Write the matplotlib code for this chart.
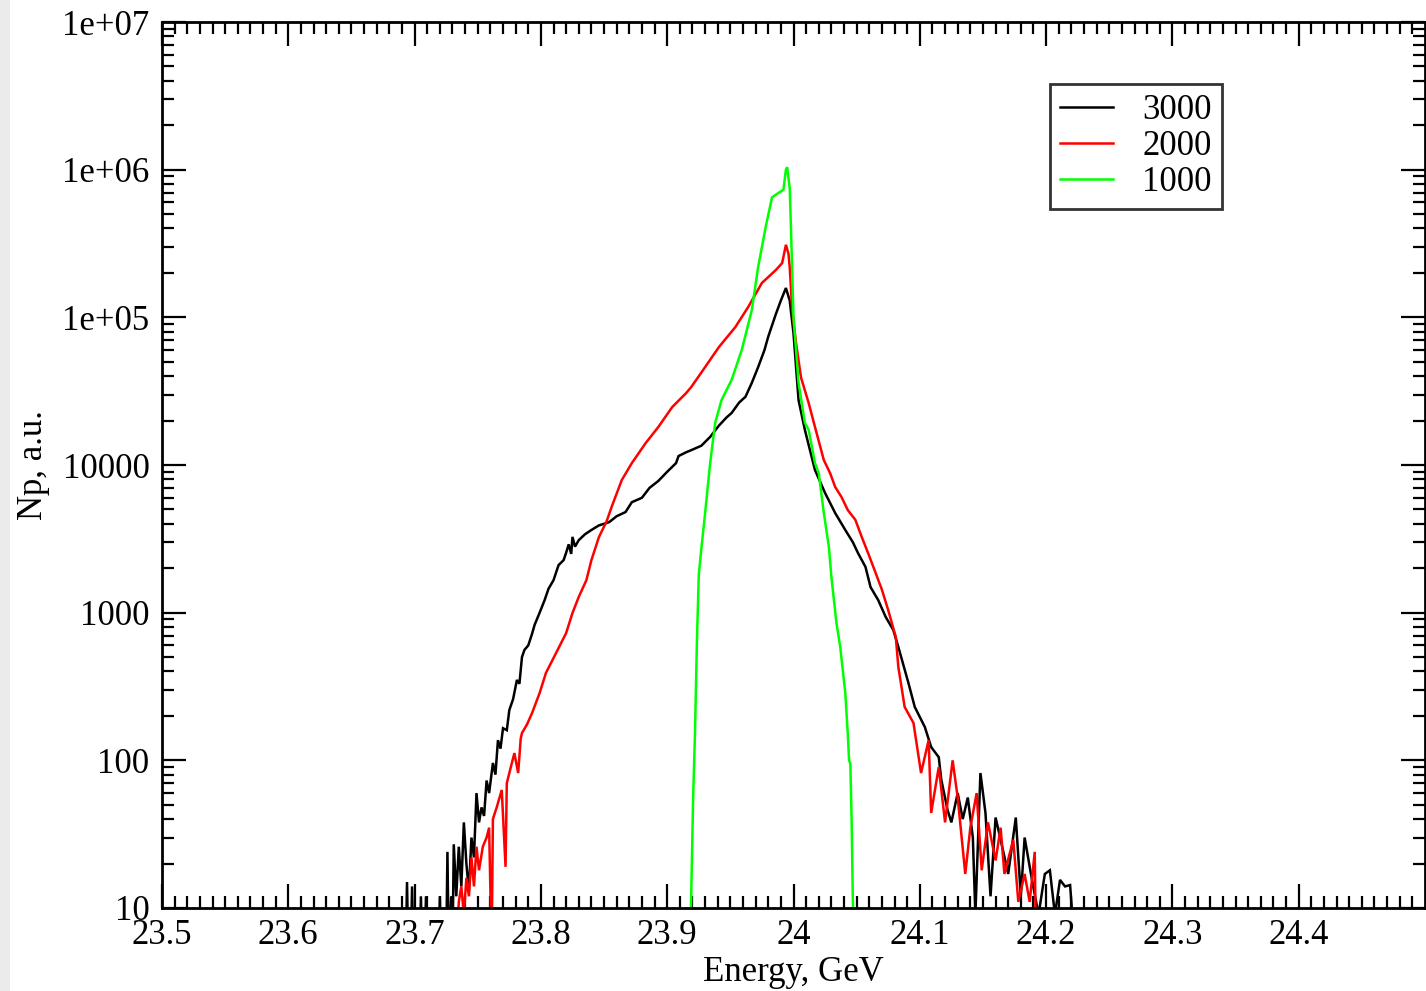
import numpy as np
import matplotlib
matplotlib.use('Agg')
import matplotlib.pyplot as plt
from matplotlib.ticker import FixedLocator, NullFormatter

plt.rcParams['font.family'] = ['Liberation Serif', 'DejaVu Serif']

# - # Data (energy in GeV, Np in a.u.)

e_3000 = [23.693, 23.694, 23.695, 23.697, 23.698, 23.699, 23.704, 23.705, 23.706, 23.708, 23.709, 23.710,
          23.719, 23.720, 23.721, 23.725, 23.726, 23.727, 23.729, 23.730, 23.731, 23.733, 23.735, 23.737,
          23.739, 23.741, 23.743, 23.745, 23.747, 23.749, 23.751, 23.753, 23.755, 23.757, 23.759, 23.762,
          23.764, 23.766, 23.768, 23.770, 23.773, 23.775, 23.778, 23.781, 23.783, 23.785, 23.787, 23.790,
          23.793, 23.795, 23.799, 23.803, 23.806, 23.810, 23.814, 23.818, 23.820, 23.822, 23.824, 23.825,
          23.827, 23.830, 23.835, 23.840, 23.846, 23.854, 23.860, 23.867, 23.872, 23.880, 23.886, 23.893,
          23.900, 23.907, 23.909, 23.915, 23.919, 23.927, 23.934, 23.941, 23.947, 23.951, 23.957, 23.962,
          23.967, 23.972, 23.977, 23.980, 23.986, 23.990, 23.994, 23.997, 24.000, 24.002, 24.004, 24.009,
          24.017, 24.025, 24.033, 24.041, 24.047, 24.051, 24.057, 24.061, 24.067, 24.073, 24.079, 24.083,
          24.091, 24.096, 24.104, 24.109, 24.115, 24.117, 24.122, 24.125, 24.130, 24.134, 24.138, 24.142,
          24.144, 24.148, 24.152, 24.156, 24.160, 24.164, 24.170, 24.176, 24.180, 24.183, 24.188, 24.194,
          24.199, 24.203, 24.207, 24.211, 24.215, 24.219, 24.223]
n_3000 = [5, 15, 5, 5, 14, 5, 5, 12, 5, 5, 12, 5,
          5, 12, 5, 5, 24, 5, 12, 5, 27, 12, 26, 14,
          38, 20, 13, 30, 22, 60, 38, 48, 42, 73, 60, 96,
          80, 137, 120, 165, 160, 219, 260, 350, 330, 500, 560, 600,
          720, 826, 1000, 1220, 1450, 1660, 2100, 2270, 2550, 2900, 2500, 3260,
          2800, 3100, 3400, 3630, 3900, 4100, 4500, 4800, 5600, 6000, 7000, 7800,
          9000, 10300, 11500, 12200, 12600, 13500, 15500, 18500, 21000, 22500, 26500, 29000,
          36000, 46000, 60000, 74000, 105000, 130000, 158000, 130000, 78000, 46000, 27500, 17300,
          9250, 6460, 4730, 3630, 3000, 2540, 2040, 1490, 1220, 935, 764, 586,
          334, 230, 168, 123, 105, 74, 46, 38, 60, 40, 56, 30,
          9, 82, 44, 12, 41, 29, 17, 41, 12, 30, 17, 9,
          17, 18, 9, 15.5, 14, 14.3, 5]

e_2000 = [23.733, 23.735, 23.737, 23.739, 23.741, 23.743, 23.745, 23.747, 23.749, 23.751, 23.754, 23.757,
          23.759, 23.761, 23.762, 23.765, 23.769, 23.772, 23.773, 23.775, 23.779, 23.782, 23.784, 23.785,
          23.789, 23.793, 23.799, 23.804, 23.812, 23.820, 23.825, 23.830, 23.836, 23.840, 23.846, 23.852,
          23.856, 23.864, 23.872, 23.883, 23.893, 23.904, 23.915, 23.919, 23.930, 23.941, 23.954, 23.964,
          23.975, 23.986, 23.991, 23.994, 23.996, 23.997, 23.999, 24.002, 24.006, 24.012, 24.017, 24.024,
          24.029, 24.033, 24.038, 24.043, 24.049, 24.054, 24.059, 24.065, 24.070, 24.075, 24.081, 24.083,
          24.088, 24.095, 24.101, 24.107, 24.109, 24.115, 24.120, 24.126, 24.130, 24.136, 24.140, 24.145,
          24.149, 24.154, 24.160, 24.164, 24.167, 24.174, 24.178, 24.183, 24.187, 24.191, 24.192]
n_2000 = [5, 11, 14, 9, 16, 12, 22, 14, 26, 18, 26, 30,
          35, 5, 40, 48, 63, 19, 70, 82, 112, 82, 140, 153,
          175, 209, 286, 391, 533, 728, 995, 1280, 1660, 2270, 3260, 4150,
          5200, 7900, 10300, 14100, 18100, 24700, 30700, 33700, 46000, 63000, 86000, 117000,
          171000, 209000, 233000, 310000, 270000, 219000, 112000, 67000, 39000, 26300, 18100, 10800,
          8800, 7100, 6070, 4950, 4250, 3260, 2540, 1860, 1430, 1040, 684, 429,
          230, 179, 82, 137, 44, 90, 38, 100, 56, 17, 35, 60,
          18, 38, 21, 35, 17, 29, 11, 17, 11, 24, 5]

e_1000 = [23.918, 23.919, 23.9205, 23.922, 23.9235, 23.925, 23.927, 23.930, 23.934, 23.938, 23.943, 23.951,
          23.959, 23.967, 23.972, 23.978, 23.983, 23.988, 23.992, 23.994, 23.995, 23.997, 23.998, 23.999,
          24.000, 24.004, 24.009, 24.012, 24.017, 24.020, 24.024, 24.028, 24.030, 24.034, 24.037, 24.041,
          24.043, 24.044, 24.045, 24.046, 24.047, 24.048]
n_1000 = [5, 12, 54, 153, 624, 1800, 2700, 4700, 10300, 19300, 27500, 37700,
          60000, 112000, 219000, 410000, 650000, 695000, 730000, 1000000, 1040000, 750000, 400000, 200000,
          100000, 36000, 19300, 17300, 10300, 8800, 4730, 2790, 1750, 851, 586, 286,
          150, 100, 95, 40, 11, 5]

labels = ['3000', '2000', '1000']
colors = ['black', 'red', '#00ff00']

x_major = [23.5, 23.6, 23.7, 23.8, 23.9, 24.0, 24.1, 24.2, 24.3, 24.4]
x_labels = ['23.5', '23.6', '23.7', '23.8', '23.9', '24', '24.1', '24.2', '24.3', '24.4']
y_major = [10, 100, 1000, 10000, 1e5, 1e6, 1e7]
y_labels = ['10', '100', '1000', '10000', '1e+05', '1e+06', '1e+07']

# - # Plotting

W, H = 1426, 991
fig = plt.figure(figsize=(W / 100, H / 100), dpi=100)
fig.patch.set_facecolor('white')
fig.patches.append(plt.Rectangle((0, 0), 10 / W, 1, transform=fig.transFigure,
                                 facecolor='#ebebeb', edgecolor='none', zorder=-1))

ax = fig.add_axes([162 / W, 1 - 908 / H, (1425 - 162) / W, (908 - 22) / H])

for e, n, lab, c in zip([e_3000, e_2000, e_1000], [n_3000, n_2000, n_1000], labels, colors):
    ax.plot(e, n, color=c, lw=1.8, label=lab, solid_joinstyle='miter')

ax.set_yscale('log')
ax.set_xlim(23.5, 24.5)
ax.set_ylim(10, 1e7)

ax.set_xticks(x_major)
ax.set_xticklabels(x_labels)
ax.xaxis.set_minor_locator(FixedLocator(np.arange(23.5, 24.5, 0.01)))
ax.set_yticks(y_major)
ax.set_yticklabels(y_labels)
ax.yaxis.set_minor_locator(FixedLocator([m * 10.0 ** k for k in range(1, 7) for m in range(2, 10)]))
ax.yaxis.set_minor_formatter(NullFormatter())

ax.tick_params(which='both', direction='in', top=True, right=True, width=1.6, labelsize=25)
ax.tick_params(which='major', length=17)
ax.tick_params(which='minor', length=8.5)
ax.tick_params(axis='x', pad=8)
ax.tick_params(axis='y', pad=9)
for sp in ax.spines.values():
    sp.set_linewidth(2)

ax.set_xlabel('Energy, GeV', fontsize=25)
ax.set_ylabel('Np, a.u.', fontsize=25)
ax.xaxis.set_label_coords(0.5, -0.054)
ax.yaxis.set_label_coords(-0.089, 0.5)

leg = ax.legend(loc='upper right', bbox_to_anchor=(1222 / W, 1 - 84 / H), bbox_transform=fig.transFigure,
                fontsize=25, frameon=True, fancybox=False, shadow=False, borderaxespad=0,
                handlelength=1.5, handletextpad=0.85, labelspacing=0.08, borderpad=0.3)
leg.get_frame().set_edgecolor('black')
leg.get_frame().set_linewidth(2)
for line in leg.get_lines():
    line.set_linewidth(1.8)

fig.savefig('out.png', dpi=100)
